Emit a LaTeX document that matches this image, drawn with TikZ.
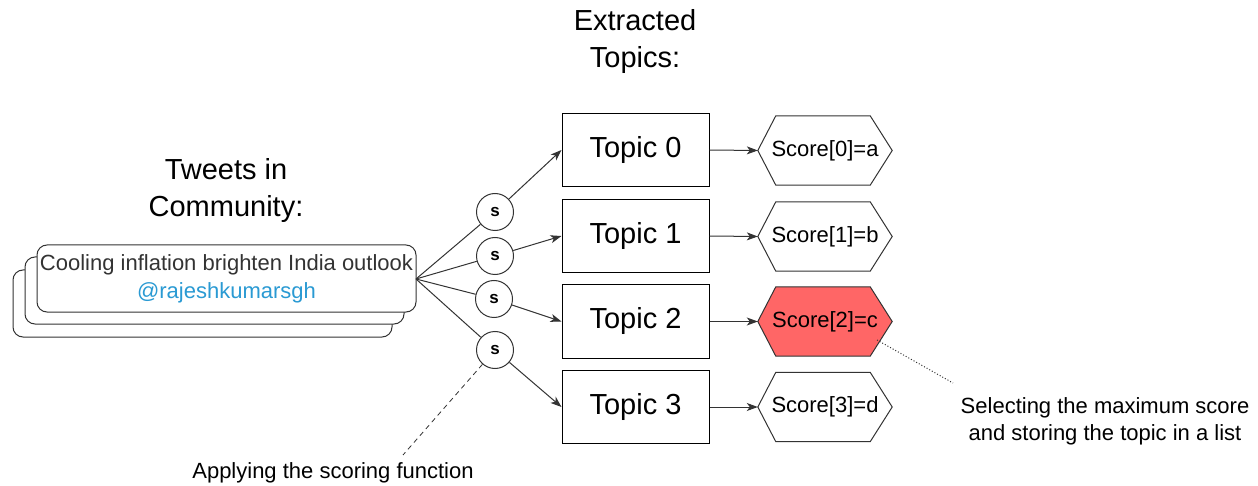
\documentclass[tikz,border=0pt]{standalone}
\usepackage{fontspec}
\setmainfont{Liberation Sans}
\usetikzlibrary{arrows.meta,calc}
\definecolor{linegray}{HTML}{333333}
\definecolor{twblue}{HTML}{2A9AD3}
\definecolor{hired}{HTML}{FF6666}
\tikzset{
  conn/.style={draw=linegray, line width=1pt},
  arr/.style={conn, -{Stealth[length=11pt,width=8pt,inset=3pt]}},
  tweetbox/.style={draw=linegray, line width=1pt, rounded corners=10pt, fill=white},
  topicbox/.style={draw=black, line width=1pt, minimum width=147pt, minimum height=73pt, inner sep=0pt, font=\fontsize{29}{34}\selectfont},
  scorenode/.style={minimum width=134pt, minimum height=69pt, inner sep=0pt, font=\fontsize{22}{26}\selectfont},
  hexline/.style={draw=linegray, line width=1pt},
  scircle/.style={circle, draw=linegray, line width=1pt, minimum size=37pt, inner sep=0pt, fill=white, font=\fontsize{17}{20}\selectfont\bfseries},
  title/.style={align=center, font=\fontsize{29}{37}\selectfont},
  note/.style={align=center, font=\fontsize{22}{27}\selectfont},
}
\begin{document}
\begin{tikzpicture}[x=1pt,y=-1pt]
\useasboundingbox (0,0) rectangle (1258,486);
% titles
\node[title] (ttl1) at (226,191) {Tweets in\\Community:};
\node[title] (ttl2) at (635,42) {Extracted\\Topics:};
% tweet stack
\draw[tweetbox] (13,270) rectangle (392,337);
\draw[tweetbox] (25,257) rectangle (404,324);
\node[tweetbox, minimum width=379pt, minimum height=67pt, inner sep=0pt, align=center, font=\fontsize{22}{28}\selectfont, text=linegray] (tw) at (226.5,278.5) {Cooling inflation brighten India outlook\\\textcolor{twblue}{@rajeshkumarsgh}};
\coordinate (cv) at (416,279);
% topics
\foreach \i/\y in {0/150,1/236,2/321.5,3/407}{
  \node[topicbox] (t\i) at (635.5,\y) {Topic \i};
}
% scores
\node[scorenode] (h0) at (825,150.5) {};
\node[scorenode] (h1) at (825,236.5) {};
\node[scorenode] (h2) at (825,321.5) {};
\node[scorenode] (h3) at (825,407) {};
\fill[hired] (h2.west) -- ($(h2.north west)+(18,0)$) -- ($(h2.north east)+(-22,0)$) -- (h2.east) -- ($(h2.south east)+(-22,0)$) -- ($(h2.south west)+(18,0)$) -- cycle;
\foreach \i in {0,1,2,3}{
  \draw[hexline] (h\i.west) -- ($(h\i.north west)+(18,0)$) -- ($(h\i.north east)+(-22,0)$) -- (h\i.east) -- ($(h\i.south east)+(-22,0)$) -- ($(h\i.south west)+(18,0)$) -- cycle;
}
\node[font=\fontsize{22}{26}\selectfont] (lab0) at (h0) {Score[0]=a};
\node[font=\fontsize{22}{26}\selectfont] (lab1) at (h1) {Score[1]=b};
\node[font=\fontsize{22}{26}\selectfont] (lab2) at (h2) {Score[2]=c};
\node[font=\fontsize{22}{26}\selectfont] (lab3) at (h3) {Score[3]=d};
\foreach \i in {0,1,2,3}{
  \draw[arr] (t\i.east) -- (h\i.west);
}
% scoring circles
\node[scircle] (s0) at (495,212) {s};
\node[scircle] (s1) at (495,256) {s};
\node[scircle] (s2) at (494,299) {s};
\node[scircle] (s3) at (495,350) {s};
\foreach \i in {0,1,2,3}{
  \draw[conn] (cv) -- (s\i);
  \draw[arr] (s\i) -- (t\i.west);
}
% notes
\node[note] (n1) at (333,473) {Applying the scoring function};
\coordinate (n1a) at (403,455);
\draw[conn, dashed, dash pattern=on 5pt off 4pt, line width=0.8pt] (s3) -- (n1a);
\node[note] (n2) at (1105,421) {Selecting the maximum score\\and storing the topic in a list};
\coordinate (n2a) at (953,383);
\coordinate (h2p) at (877,340);
\draw[conn, dotted, line width=1pt] (h2p) -- (n2a);
\end{tikzpicture}
\end{document}
